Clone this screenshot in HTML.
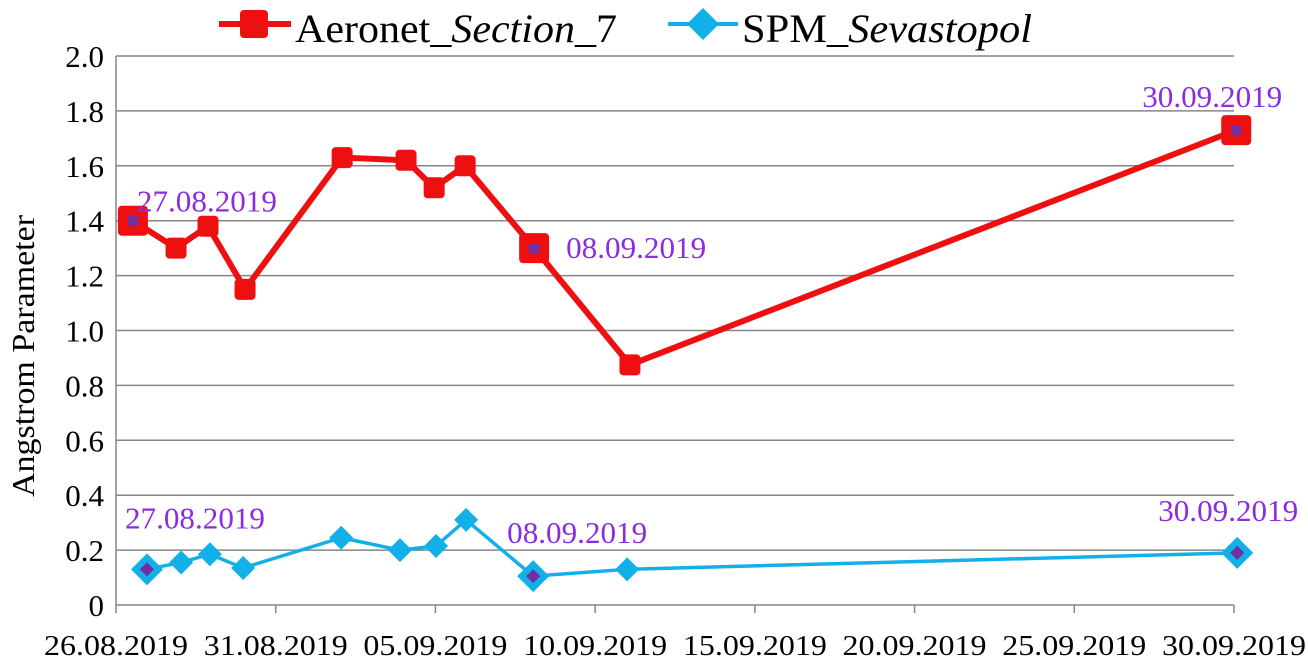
<!DOCTYPE html>
<html><head><meta charset="utf-8"><style>
body{margin:0;background:#fff;}
svg{display:block;font-family:"Liberation Serif",serif;}
</style></head><body>
<svg id="chart" width="1308" height="663" viewBox="0 0 1308 663"></svg>
<script>
const xTickLabels=["26.08.2019","31.08.2019","05.09.2019","10.09.2019","15.09.2019","20.09.2019","25.09.2019","30.09.2019"];
const yTickLabels=["0","0.2","0.4","0.6","0.8","1.0","1.2","1.4","1.6","1.8","2.0"];
const aeronetDays=[0.53,1.88,2.88,4.04,7.08,9.08,9.96,10.93,13.09,16.09,35.07];
const aeronetValues=[1.40,1.30,1.38,1.15,1.63,1.62,1.52,1.60,1.30,0.875,1.73];
const spmDays=[0.97,2.04,2.94,3.98,7.05,8.89,10.02,10.96,13.06,16.0,35.1];
const spmValues=[0.13,0.155,0.185,0.135,0.245,0.20,0.215,0.31,0.105,0.13,0.19];
const aeronetLabelIdx=[0,8,10];
const spmLabelIdx=[0,8,10];
const labelText=["27.08.2019","08.09.2019","30.09.2019"];

const NS="http://www.w3.org/2000/svg";
const svg=document.getElementById('chart');
const X0=116,X1=1234,Y0=605,Y1=56;
const xs=d=>X0+(X1-X0)*d/35;
const ys=v=>Y0-(Y0-Y1)*v/2;
function el(t,a,p){const e=document.createElementNS(NS,t);for(const k in a)e.setAttribute(k,a[k]);(p||svg).appendChild(e);return e;}

yTickLabels.forEach((l,i)=>{
  const y=ys(i*0.2);
  const g=el('line',{x1:X0,x2:X1,y1:y,y2:y,stroke:'#868686','stroke-width':1.5});
  
  
  const t=el('text',{x:X0-12,y:y+11,'text-anchor':'end','font-size':31,fill:'#000'});
  t.textContent=l;
  
  
});
el('line',{x1:X0,x2:X0,y1:Y1,y2:Y0,stroke:'#868686','stroke-width':1.5});
xTickLabels.forEach((l,i)=>{
  const x=xs(i*5);
  el('line',{x1:x,x2:x,y1:Y0,y2:Y0+8,stroke:'#868686','stroke-width':1.5});
  const t=el('text',{x:x,y:655,'text-anchor':'middle','font-size':29,textLength:144,lengthAdjust:'spacingAndGlyphs',fill:'#000'});
  t.textContent=l;
  
  
});
const yt=el('text',{x:0,y:0,transform:'translate(34,356) rotate(-90)','text-anchor':'middle','font-size':32,textLength:282,lengthAdjust:'spacingAndGlyphs',fill:'#000'});
yt.textContent='Angstrom Parameter';



function series(days,vals,color,marker,name,labelIdx,loff){
  const pts=days.map((d,i)=>xs(d)+','+ys(vals[i])).join(' ');
  const pl=el('polyline',{points:pts,fill:'none',stroke:color,'stroke-width':marker==='sq'?6:3.5,'stroke-linejoin':'round'});
  
  
  days.forEach((d,i)=>{
    const x=xs(d),y=ys(vals[i]);
    const big=labelIdx.includes(i);
    let m;
    if(marker==='sq'){const s=big?30:21;m=el('rect',{x:x-s/2,y:y-s/2,width:s,height:s,rx:4,fill:color});}
    else{const s=big?16:12;m=el('polygon',{points:`${x},${y-s} ${x+s},${y} ${x},${y+s} ${x-s},${y}`,fill:color});}
    
    
    if(big){const c=el('rect',{x:x-5,y:y-5,width:10,height:10,fill:'#7030A0',transform:marker==='sq'?'':`rotate(45 ${x} ${y})`});
      
      }
  });
  labelIdx.forEach((idx,j)=>{
    const t=el('text',{x:xs(days[idx])+loff[j][0],y:ys(vals[idx])+loff[j][1],'font-size':31,textLength:140,lengthAdjust:'spacingAndGlyphs',fill:'#8B2BE2'});
    t.textContent=labelText[j];
    
    
  });
}
series(aeronetDays,aeronetValues,'#EE1010','sq','aeronet',aeronetLabelIdx,[[4,-9],[32,10],[-94,-23]]);
series(spmDays,spmValues,'#12B0E8','dia','spm',spmLabelIdx,[[-22,-41],[-26,-33],[-79,-32]]);

const lg=el('g',{});


el('line',{x1:219,x2:291,y1:24,y2:24,stroke:'#EE1010','stroke-width':6},lg);
el('rect',{x:240,y:10,width:28,height:28,rx:4,fill:'#EE1010'},lg);
const l1=el('text',{x:295,y:42,'font-size':40,textLength:322,lengthAdjust:'spacingAndGlyphs',fill:'#000'},lg);
l1.innerHTML='Aeronet_<tspan font-style="italic">Section_</tspan>7';


el('line',{x1:668,x2:738,y1:24,y2:24,stroke:'#12B0E8','stroke-width':4},lg);
el('polygon',{points:'703,8 719,24 703,40 687,24',fill:'#12B0E8'},lg);
const l2=el('text',{x:742,y:42,'font-size':40,textLength:290,lengthAdjust:'spacingAndGlyphs',fill:'#000'},lg);
l2.innerHTML='SPM_<tspan font-style="italic">Sevastopol</tspan>';


</script>
</body></html>
